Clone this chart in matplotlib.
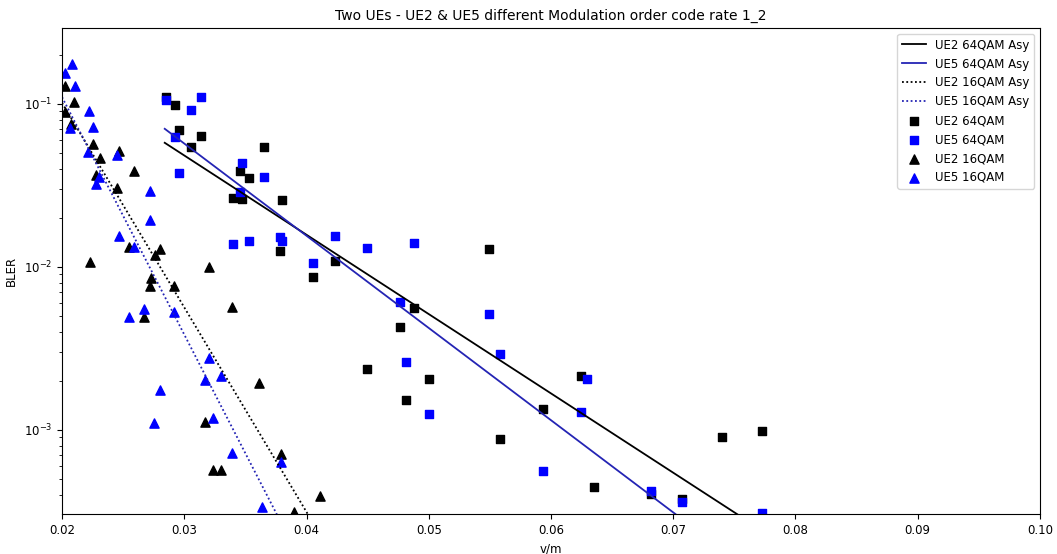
import numpy as np
import matplotlib
matplotlib.use('Agg')
import matplotlib.pyplot as plt

# UE2 64QAM measured points (v/m, BLER)
ue2_64_x = [0.02851, 0.02924, 0.0296, 0.03135, 0.03053, 0.03652, 0.03456, 0.0353, 0.03396, 0.0347,
            0.038, 0.03783, 0.04056, 0.04233, 0.05495, 0.04882, 0.04765, 0.04492, 0.05005, 0.04814,
            0.05583, 0.05937, 0.06243, 0.06354, 0.06816, 0.07074, 0.07396, 0.07724]
ue2_64_y = [0.110, 0.0986, 0.0692, 0.0639, 0.0547, 0.0542, 0.0388, 0.0353, 0.0264, 0.0261,
            0.0258, 0.0125, 0.00872, 0.0109, 0.0128, 0.00558, 0.0043, 0.00237, 0.00206, 0.00153,
            0.000877, 0.00134, 0.00215, 0.000449, 0.000405, 0.000376, 0.000902, 0.000991]

# UE5 64QAM
ue5_64_x = [0.02851, 0.03135, 0.03053, 0.02924, 0.02957, 0.0347, 0.03652, 0.03456, 0.03396, 0.0353,
            0.03783, 0.03802, 0.04233, 0.04492, 0.04882, 0.04056, 0.04765, 0.05495, 0.05583, 0.04814,
            0.05005, 0.06292, 0.06245, 0.05937, 0.06816, 0.07074, 0.07724]
ue5_64_y = [0.106, 0.110, 0.0919, 0.063, 0.0376, 0.0432, 0.0358, 0.0286, 0.0138, 0.0144,
            0.0153, 0.0144, 0.0155, 0.013, 0.0141, 0.0105, 0.00607, 0.00517, 0.00292, 0.0026,
            0.00126, 0.00206, 0.00129, 0.000563, 0.000424, 0.000362, 0.000311]

# UE2 16QAM
ue2_16_x = [0.02025, 0.02101, 0.02025, 0.02074, 0.02256, 0.02311, 0.02469, 0.02278, 0.02589, 0.02447,
            0.02551, 0.02229, 0.02761, 0.02802, 0.03202, 0.02726, 0.0272, 0.02919, 0.03393, 0.02671,
            0.03614, 0.0317, 0.03238, 0.03298, 0.03789, 0.0411, 0.039]
ue2_16_y = [0.128, 0.102, 0.0889, 0.0757, 0.0568, 0.0464, 0.0517, 0.0367, 0.0388, 0.0304,
            0.0133, 0.0107, 0.0119, 0.0129, 0.00996, 0.00853, 0.00764, 0.00764, 0.00566, 0.00491,
            0.00193, 0.00112, 0.000569, 0.000569, 0.000713, 0.000395, 0.000315]

# UE5 16QAM
ue5_16_x = [0.02079, 0.02025, 0.02106, 0.02223, 0.02065, 0.02256, 0.02215, 0.02447, 0.02305, 0.02278,
            0.0272, 0.0272, 0.02469, 0.02589, 0.02551, 0.02671, 0.02919, 0.03202, 0.03298, 0.0317,
            0.02802, 0.02755, 0.03238, 0.03393, 0.03791, 0.03634]
ue5_16_y = [0.175, 0.154, 0.129, 0.091, 0.0716, 0.0726, 0.0509, 0.0486, 0.0358, 0.0321,
            0.029, 0.0194, 0.0155, 0.0132, 0.00495, 0.0055, 0.00527, 0.00275, 0.00214, 0.00201,
            0.00176, 0.00111, 0.00118, 0.000726, 0.00064, 0.000335]

# asymptotic fit lines (end points)
asy64_x = [0.0284, 0.078]
ue2_64_asy = [0.0577, 2.23e-4]
ue5_64_asy = [0.0703, 1.10e-4]
asy16_x = [0.02, 0.041]
ue2_16_asy = [0.1014, 2.35e-4]
ue5_16_asy = [0.110, 9.6e-5]

blue_line = '#2424b4'
dots = (0, (1, 1.4))

fig = plt.figure(figsize=(10.57, 5.54), dpi=100)
ax = fig.add_axes([0.0587, 0.0722, 0.9252, 0.8773])

ax.plot(asy64_x, ue2_64_asy, color='black', lw=1.3, label='UE2 64QAM Asy')
ax.plot(asy64_x, ue5_64_asy, color=blue_line, lw=1.3, label='UE5 64QAM Asy')
ax.plot(asy16_x, ue2_16_asy, color='black', lw=1.3, ls=dots, label='UE2 16QAM Asy')
ax.plot(asy16_x, ue5_16_asy, color=blue_line, lw=1.3, ls=dots, label='UE5 16QAM Asy')

ax.scatter(ue2_64_x, ue2_64_y, marker='s', color='black', s=36, label='UE2 64QAM')
ax.scatter(ue5_64_x, ue5_64_y, marker='s', color='blue', s=36, label='UE5 64QAM')
ax.scatter(ue2_16_x, ue2_16_y, marker='^', color='black', s=44, label='UE2 16QAM')
ax.scatter(ue5_16_x, ue5_16_y, marker='^', color='blue', s=44, label='UE5 16QAM')

ax.set_yscale('log')
ax.set_xlim(0.02, 0.10)
ax.set_ylim(3.05e-4, 0.292)
ax.set_xticks(np.arange(0.02, 0.1001, 0.01))
ax.tick_params(labelsize=8.5)

ax.set_title('Two UEs - UE2 & UE5 different Modulation order code rate 1_2', fontsize=10)
ax.set_xlabel('v/m', fontsize=8.5)
ax.set_ylabel('BLER', fontsize=8.5)
ax.legend(loc='upper right', fontsize=8.5)

fig.savefig('out.png', dpi=100)
